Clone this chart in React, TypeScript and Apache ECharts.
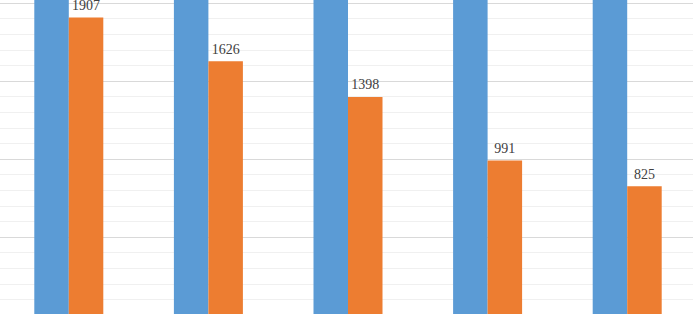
import React, { useEffect, useRef } from "react";
import * as echarts from "echarts";

const categories = ["A", "B", "C", "D", "E"];
const seriesBlue = [2600, 2400, 2300, 2200, 2100];
const seriesOrange = [1907, 1626, 1398, 991, 825];

export default function App() {
  const ref = useRef<HTMLDivElement>(null);
  useEffect(() => {
    if (!ref.current) return;
    const chart = echarts.init(ref.current, null, { renderer: "svg" });
    chart.setOption({
      animation: false,
      backgroundColor: "#ffffff",
      grid: { left: 0, right: 0, top: 0, bottom: 0, containLabel: false },
      xAxis: {
        type: "category",
        data: categories,
        axisLine: { show: false },
        axisTick: { show: false },
        axisLabel: { show: false },
      },
      yAxis: {
        type: "value",
        min: 0,
        max: 3000,
        interval: 500,
        axisLine: { show: false },
        axisTick: { show: false },
        axisLabel: { show: false },
        splitLine: { show: true, lineStyle: { color: "#d9d9d9", width: 1 } },
        minorTick: { show: false, splitNumber: 5 },
        minorSplitLine: { show: true, lineStyle: { color: "#f0f0f0", width: 1 } },
      },
      series: [
        {
          type: "bar",
          data: seriesBlue,
          barWidth: 34.5,
          barGap: "0%",
          itemStyle: { color: "#5b9bd5" },
        },
        {
          type: "bar",
          data: seriesOrange,
          barWidth: 34.5,
          barGap: "0%",
          itemStyle: { color: "#ed7d31" },
          label: {
            show: true,
            position: "top",
            distance: 5,
            fontFamily: "Liberation Serif",
            fontSize: 14,
            color: "#404040",
          },
        },
      ],
    });
    return () => chart.dispose();
  }, []);
  return (
    <div style={{ position: "fixed", left: 0, top: 0, width: 693, height: 314, overflow: "hidden", background: "#fff" }}>
      <div
        ref={ref}
        style={{ position: "absolute", left: -1, top: -153, width: 698, height: 468 }}
      />
    </div>
  );
}
